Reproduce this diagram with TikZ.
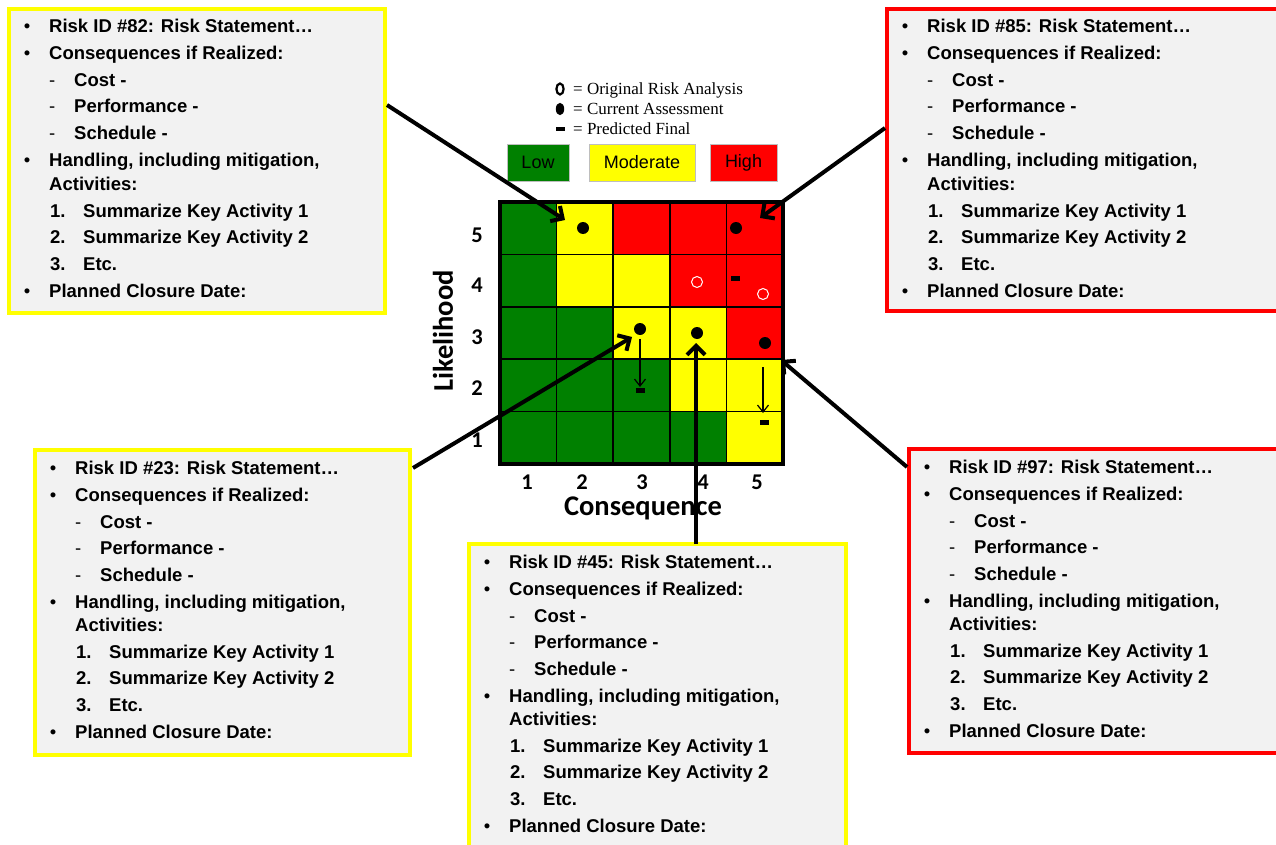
\documentclass[tikz,border=0pt]{standalone}
\usepackage{fontspec}
\setmainfont{Liberation Sans}
\newfontfamily\carlitofont{Carlito}
\newfontfamily\legserif{Liberation Serif}
\usetikzlibrary{arrows.meta,calc}
\definecolor{gr}{RGB}{0,128,0}
\definecolor{yl}{RGB}{255,255,0}
\definecolor{rd}{RGB}{255,0,0}
\definecolor{boxgrey}{RGB}{242,242,242}
\definecolor{legborder}{RGB}{190,190,190}

\tikzset{
 riskbox/.style={draw, line width=4pt, fill=boxgrey, anchor=north west, inner sep=0pt, outer sep=0pt},
 bul/.style={anchor=base, inner sep=0pt, font=\fontsize{18.5}{20}\selectfont},
 itm/.style={anchor=base west, inner sep=0pt, font=\fontsize{18.5}{20}\selectfont\bfseries},
 dsh/.style={anchor=base west, inner sep=0pt, font=\fontsize{18.5}{20}\selectfont},
 bigarrow/.style={line width=4pt, -{Straight Barb[length=9pt,width=18pt]}},
 thinarrow/.style={line width=1.2pt, -{Straight Barb[length=7pt,width=11pt]}},
 dot/.style={circle, fill=black, inner sep=0pt, minimum size=12pt},
 orig/.style={circle, draw=white, line width=1pt, inner sep=0pt, minimum size=11pt},
 fin/.style={rectangle, fill=black, inner sep=0pt, minimum width=9pt, minimum height=5pt},
 axnum/.style={inner sep=0pt, font=\carlitofont\bfseries\fontsize{22.5}{24}\selectfont},
 axtitle/.style={inner sep=0pt, font=\carlitofont\bfseries\fontsize{28.5}{30}\selectfont},
 legtxt/.style={anchor=base west, inner sep=0pt, font=\legserif\fontsize{17}{18}\selectfont},
 legbox/.style={draw=legborder, line width=0.75pt, inner sep=0pt, minimum height=37pt, font=\fontsize{18}{20}\selectfont},
}

\newcommand\riskitems[2]{%
\begin{scope}[shift={(#1.north west)}]
\node[bul] (#1-b1) at (18,24) {•};
\node[itm] (#1-t1) at (40,24) {Risk ID \##2: Risk Statement…};
\node[bul] (#1-b2) at (18,51) {•};
\node[itm] (#1-t2) at (40,51) {Consequences if Realized:};
\node[dsh] (#1-d1) at (40,78) {-};
\node[itm] (#1-t3) at (65,78) {Cost -};
\node[dsh] (#1-d2) at (40,104) {-};
\node[itm] (#1-t4) at (65,104) {Performance -};
\node[dsh] (#1-d3) at (40,131) {-};
\node[itm] (#1-t5) at (65,131) {Schedule -};
\node[bul] (#1-b3) at (18,158) {•};
\node[itm] (#1-t6) at (40,158) {Handling, including mitigation,};
\node[itm] (#1-t7) at (40,181) {Activities:};
\node[itm] (#1-n1) at (41,208) {1.};
\node[itm] (#1-t8) at (74,208) {Summarize Key Activity 1};
\node[itm] (#1-n2) at (41,234) {2.};
\node[itm] (#1-t9) at (74,234) {Summarize Key Activity 2};
\node[itm] (#1-n3) at (41,261) {3.};
\node[itm] (#1-t10) at (74,261) {Etc.};
\node[bul] (#1-b4) at (18,288) {•};
\node[itm] (#1-t11) at (40,288) {Planned Closure Date:};
\end{scope}}

\begin{document}
\begin{tikzpicture}[x=1pt,y=-1pt]
\clip (0,0) rectangle (1276,845);
\fill[white] (0,0) rectangle (1276,845);

% risk boxes
\node[riskbox, draw=yl, minimum width=376pt, minimum height=304pt] (b82) at (9,9) {};
\node[riskbox, draw=rd, minimum width=403pt, minimum height=302pt] (b85) at (887,9) {};
\node[riskbox, draw=yl, minimum width=375pt, minimum height=305pt] (b23) at (35,450) {};
\node[riskbox, draw=yl, minimum width=377pt, minimum height=330pt] (b45) at (469,544) {};
\node[riskbox, draw=rd, minimum width=381pt, minimum height=304pt] (b97) at (909,449) {};
\riskitems{b82}{82}
\riskitems{b85}{85}
\riskitems{b23}{23}
\riskitems{b45}{45}
\riskitems{b97}{97}

% legend
\draw[line width=2.2pt] (560,89) ellipse [x radius=3.6pt, y radius=5.5pt];
\fill (560,109) ellipse [x radius=4.2pt, y radius=6.2pt];
\fill (556,127) rectangle (564.5,131.5);
\node[legtxt] (lg1) at (573,95) {= Original Risk Analysis};
\node[legtxt] (lg2) at (573,114.5) {= Current Assessment};
\node[legtxt] (lg3) at (573,134.5) {= Predicted Final};
\node[legbox, fill=gr, minimum width=62pt] (low) at (538,162.5) {Low};
\node[legbox, fill=yl, minimum width=106pt] (mod) at (642,162.5) {Moderate};
\node[legbox, fill=rd, minimum width=67pt] (high) at (743.5,162.5) {High};

% matrix cells
\foreach \cols [count=\r from 0] in {{gr,yl,rd,rd,rd},{gr,yl,yl,rd,rd},{gr,gr,yl,yl,rd},{gr,gr,gr,yl,yl},{gr,gr,gr,gr,yl}}{
  \foreach \c [count=\k from 0] in \cols {
    \fill[\c] ({500+56.6*\k},{202+52.4*\r}) rectangle ({500+56.6*(\k+1)},{202+52.4*(\r+1)});
  }
}
\foreach \k in {1,2,3,4}{
  \draw[line width=1.5pt] ({500+56.6*\k},202) -- ({500+56.6*\k},464);
  \draw[line width=1.5pt] (500,{202+52.4*\k}) -- (783,{202+52.4*\k});
}
\draw[line width=3.5pt] (500,202) rectangle (783,464);

% axis labels
\node[axnum] (y5) at (477,235) {5};
\node[axnum] (y4) at (477,285) {4};
\node[axnum] (y3) at (477,337) {3};
\node[axnum] (y2) at (477,388) {2};
\node[axnum] (y1) at (477,440) {1};
\node[axnum] (x1) at (527,482) {1};
\node[axnum] (x2) at (582,482) {2};
\node[axnum] (x3) at (642,482) {3};
\node[axnum] (x4) at (703,482) {4};
\node[axnum] (x5) at (757,482) {5};
\node[axtitle, rotate=90] (ylab) at (443,331) {Likelihood};
\node[axtitle] (xlab) at (643,508) {Consequence};

% markers
\node[dot] (d82) at (583,228) {};
\node[dot] (d85) at (736,228) {};
\node[dot] (d23) at (640,329) {};
\node[dot] (d45) at (697,333) {};
\node[dot] (d97) at (765,343) {};
\node[orig] (o45) at (697,282) {};
\node[orig] (o85) at (763,294) {};
\node[fin] (f85) at (735,278) {};
\node[fin] (f23) at (640,390) {};
\node[fin] (f97) at (764,422) {};
\draw[thinarrow] ($(d23)+(0,10)$) -- ($(f23)+(0,-3)$);
\draw[thinarrow] ($(d97)+(-2,24)$) -- ($(f97)+(-1,-9)$);

% big arrows
\coordinate (t82) at (565,220);
\coordinate (t85) at (760,218);
\coordinate (t23) at (632,337);
\coordinate (t45) at (696,343);
\coordinate (t97) at (781,360);
\draw[bigarrow] ($(b82.north east)+(2,96)$) -- (t82);
\draw[bigarrow] ($(b85.north west)+(-2,119)$) -- (t85);
\draw[bigarrow] ($(b23.north east)+(3,18)$) -- (t23);
\draw[bigarrow] (t45 |- b45.north) -- (t45);
\draw[bigarrow] ($(b97.north west)+(-2,18)$) -- (t97);
\end{tikzpicture}
\end{document}
